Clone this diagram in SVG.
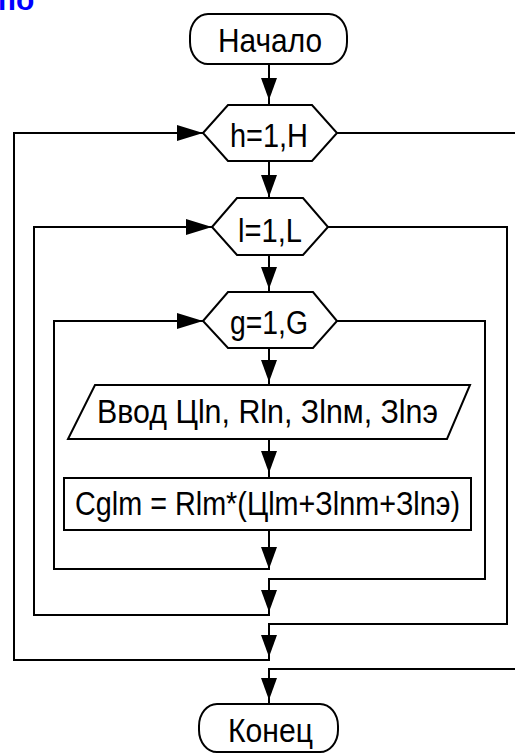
<svg xmlns="http://www.w3.org/2000/svg" width="515" height="754" viewBox="0 0 515 754">
<style>
.sh{fill:#fff;stroke:#000;stroke-width:2}
.ln{fill:none;stroke:#000;stroke-width:2}
.ah{fill:#000;stroke:none}
.tx{font-family:"Liberation Sans",Arial,sans-serif;font-size:33px;fill:#000;text-anchor:start}
.hd{font-family:"Liberation Sans",Arial,sans-serif;font-size:30px;font-weight:bold;fill:#0000ff}
</style>
<defs>
<path id="ad" d="M-8,-22 L8,-22 L0,0 z"/>
<path id="ar" d="M-26,-8 L-26,8 L0,0 z"/>
</defs>
<rect width="515" height="754" fill="#fff"/>
<text class="hd" x="-2" y="10">по</text>
<g id="connectors">
<path class="ln" d="M269,64 V105"/>
<path class="ln" d="M269,161 V198"/>
<path class="ln" d="M269,255 V292"/>
<path class="ln" d="M269,348 V385"/>
<path class="ln" d="M269,439 V478"/>
<path class="ln" d="M269,530 V569 H54 V321 H203"/>
<path class="ln" d="M337,321 H485 V579 H269 V615 H34 V227 H212"/>
<path class="ln" d="M328,227 H507 V624 H269 V660 H14 V133 H203"/>
<path class="ln" d="M337,133 H515"/>
<path class="ln" d="M515,669 H269 V704"/>
<use href="#ad" class="ah" x="269" y="100"/>
<use href="#ad" class="ah" x="269" y="197"/>
<use href="#ad" class="ah" x="269" y="289"/>
<use href="#ad" class="ah" x="269" y="382"/>
<use href="#ad" class="ah" x="269" y="473"/>
<use href="#ad" class="ah" x="269" y="569"/>
<use href="#ad" class="ah" x="269" y="612"/>
<use href="#ad" class="ah" x="269" y="657"/>
<use href="#ad" class="ah" x="269" y="700"/>
<use href="#ar" class="ah" x="203" y="133"/>
<use href="#ar" class="ah" x="212" y="227"/>
<use href="#ar" class="ah" x="203" y="321"/>
</g>
<g id="start">
<rect class="sh" x="190" y="14" width="157" height="50" rx="18" ry="22"/>
<text class="tx" x="218" y="52" textLength="104" lengthAdjust="spacingAndGlyphs">Начало</text>
</g>
<g id="loop-h">
<polygon class="sh" points="203,133 228,105 312,105 337,133 312,161 228,161"/>
<text class="tx" x="230" y="147" textLength="78" lengthAdjust="spacingAndGlyphs">h=1,H</text>
</g>
<g id="loop-l">
<polygon class="sh" points="212,227 237,198 303,198 328,227 303,255 237,255"/>
<text class="tx" x="238" y="242" textLength="64" lengthAdjust="spacingAndGlyphs">l=1,L</text>
</g>
<g id="loop-g">
<polygon class="sh" points="203,321 228,292 313,292 337,321 313,348 228,348"/>
<text class="tx" x="230" y="334" textLength="78" lengthAdjust="spacingAndGlyphs">g=1,G</text>
</g>
<g id="input">
<polygon class="sh" points="95,385 470,385 447,439 68,439"/>
<text class="tx" x="97" y="423" textLength="341" lengthAdjust="spacingAndGlyphs">Ввод Цln, Rln, Зlnм, Зlnэ</text>
</g>
<g id="calc">
<rect class="sh" x="64" y="478" width="407" height="52"/>
<text class="tx" x="75" y="515" textLength="385" lengthAdjust="spacingAndGlyphs">Cglm = Rlm*(Цlm+Зlnm+Зlnэ)</text>
</g>
<g id="end">
<rect class="sh" x="199" y="704" width="139" height="48" rx="18" ry="22"/>
<text class="tx" x="228" y="742" textLength="85" lengthAdjust="spacingAndGlyphs">Конец</text>
</g>
</svg>
